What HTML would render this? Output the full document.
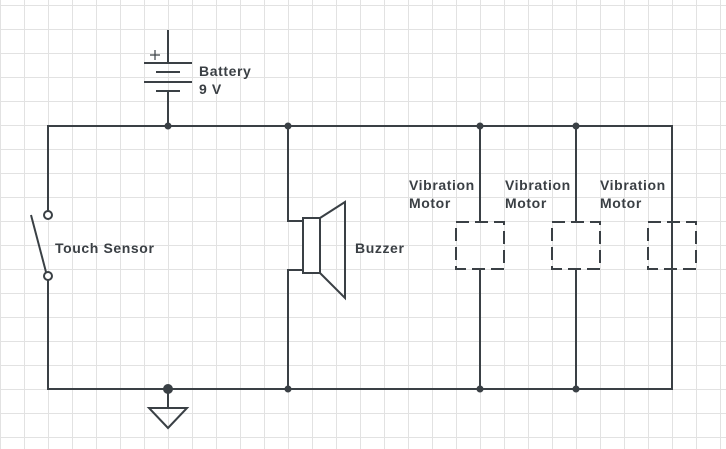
<!DOCTYPE html>
<html><head><meta charset="utf-8"><style>
html,body{margin:0;padding:0;background:#fff}
svg{display:block}
text{font-family:"Liberation Sans",Arial,sans-serif;font-weight:bold;font-size:14px;letter-spacing:0.6px;fill:#3a3f44}
</style></head><body>
<svg width="726" height="449" viewBox="0 0 726 449" xmlns="http://www.w3.org/2000/svg">
<defs>
<pattern id="g" width="24" height="24" patternUnits="userSpaceOnUse" x="0" y="5">
<path d="M0 0.5H24M0.5 0V24" stroke="#e2e2e2" stroke-width="1" fill="none"/>
</pattern>
</defs>
<rect width="726" height="449" fill="url(#g)"/>
<g stroke="#3a4045" stroke-width="2" fill="none">
<path d="M48 214V126H672V389H48V280"/>
<circle cx="48" cy="215" r="4" fill="#fff"/>
<circle cx="48" cy="276" r="4" fill="#fff"/>
<path d="M31 215L46 272"/>
<path d="M168 30V63M144 63H192M156 72H180M144 82H192M156 91H180M168 91V126"/>
<path d="M150 55H160M155 50V60" stroke-width="1.2"/>
<path d="M288 126V221H303M303 270H288V389"/>
<rect x="303" y="218" width="17" height="55" fill="#fff"/>
<path d="M320 218L345 202V298L320 273"/>
<path d="M480 126V222M480 269V389M576 126V222M576 269V389M672 126V222M672 269V389"/>
<g stroke-dasharray="13,6">
<rect x="456" y="222" width="48" height="47"/>
<rect x="552" y="222" width="48" height="47"/>
<rect x="648" y="222" width="48" height="47"/>
</g>
<path d="M168 389V408M149 408H187L168 428Z"/>
</g>
<g fill="#3a4045">
<circle cx="168" cy="126" r="3.5"/>
<circle cx="288" cy="126" r="3.5"/>
<circle cx="480" cy="126" r="3.5"/>
<circle cx="576" cy="126" r="3.5"/>
<circle cx="288" cy="389" r="3.5"/>
<circle cx="480" cy="389" r="3.5"/>
<circle cx="576" cy="389" r="3.5"/>
<circle cx="168" cy="389" r="5"/>
</g>
<text x="199" y="76">Battery</text>
<text x="199" y="94">9 V</text>
<text x="55" y="253">Touch Sensor</text>
<text x="355" y="253">Buzzer</text>
<text x="409" y="190">Vibration</text><text x="409" y="208">Motor</text>
<text x="505" y="190">Vibration</text><text x="505" y="208">Motor</text>
<text x="600" y="190">Vibration</text><text x="600" y="208">Motor</text>
</svg>
</body></html>
